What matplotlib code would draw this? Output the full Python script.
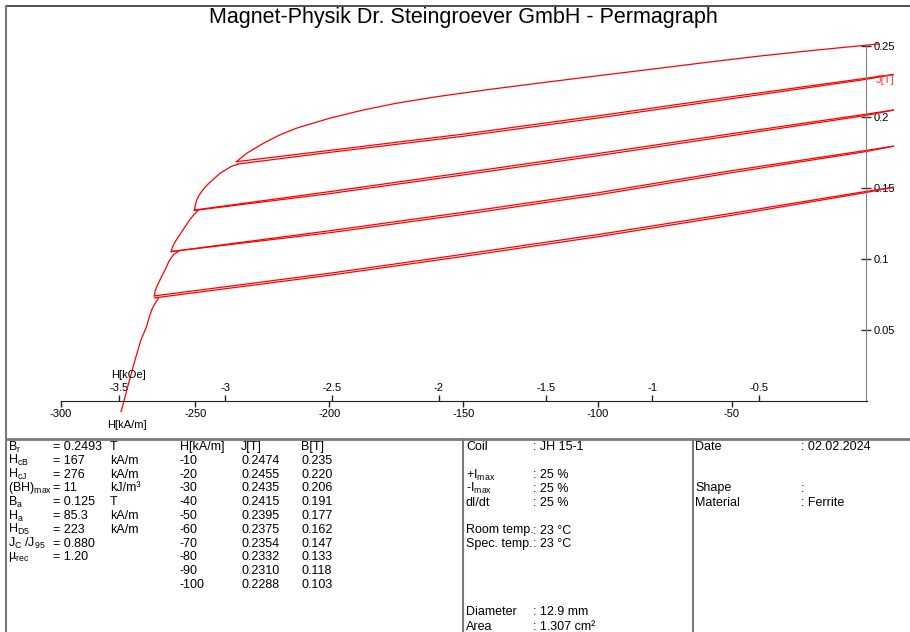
import matplotlib
matplotlib.use("Agg")
import matplotlib.pyplot as plt
from matplotlib.lines import Line2D

plt.rcParams['font.family'] = ['Liberation Sans', 'DejaVu Sans']
plt.rcParams['mathtext.fontset'] = 'custom'
plt.rcParams['mathtext.rm'] = 'Liberation Sans'
plt.rcParams['mathtext.it'] = 'Liberation Sans'
plt.rcParams['mathtext.bf'] = 'Liberation Sans:bold'
plt.rcParams['axes.unicode_minus'] = False

# demagnetisation curve J(H), H in kA/m, J in T
env_H = [5, 0, -20, -40, -60, -80, -100, -120, -140, -160, -175, -187.5,
         -200, -212, -218.5, -224.6, -230.8, -234.6]
env_J = [0.2511, 0.2502, 0.2465, 0.2425, 0.2380, 0.2333, 0.2287, 0.2240, 0.2192, 0.2140, 0.2094, 0.2046,
         0.1988, 0.1920, 0.1871, 0.1812, 0.1742, 0.1683]

# recoil loops (out to +10 kA/m and back)
rec1_H = [-234.6, -200, -150, -100, -50, 0, 10.1]
rec1_out = [0.1683, 0.1762, 0.1877, 0.2005, 0.2140, 0.2270, 0.2296]
rec1_back = [0.1665, 0.1748, 0.1862, 0.1990, 0.2126, 0.2262, 0.2296]

rec2_H = [-250.3, -200, -150, -100, -50, 0, 10.2]
rec2_out = [0.1343, 0.1472, 0.1605, 0.1740, 0.1880, 0.2017, 0.2046]
rec2_back = [0.1340, 0.1458, 0.1590, 0.1725, 0.1866, 0.2008, 0.2046]

rec3_H = [-258.9, -200, -150, -100, -50, 0, 10.2]
rec3_out = [0.1051, 0.1197, 0.1327, 0.1464, 0.1620, 0.1762, 0.1792]
rec3_back = [0.1051, 0.1183, 0.1312, 0.1449, 0.1606, 0.1754, 0.1792]

rec4_H = [-265.2, -200, -150, -100, -50, 0, 10.2]
rec4_out = [0.0739, 0.0898, 0.1032, 0.1170, 0.1320, 0.1474, 0.1503]
rec4_back = [0.0725, 0.0884, 0.1017, 0.1155, 0.1306, 0.1466, 0.1503]

# steep parts between the recoil points
desc1_H = [-234.0, -236.5, -240.9, -243.4, -245.4, -247.1, -248.6, -249.6, -250.3]
desc1_J = [0.1665, 0.1650, 0.1599, 0.1556, 0.1522, 0.1486, 0.1446, 0.1404, 0.1343]
desc2_H = [-248.9, -250.6, -252.0, -254.5, -257.0, -258.0, -258.6, -258.9]
desc2_J = [0.1340, 0.1307, 0.1275, 0.1204, 0.1134, 0.1100, 0.1075, 0.1051]
desc3_H = [-256.3, -258.0, -259.7, -261.2, -263.1, -264.2, -264.9, -265.2]
desc3_J = [0.1051, 0.1030, 0.0985, 0.0923, 0.0852, 0.0808, 0.0775, 0.0739]
tail_H = [-263.7, -265.0, -266.2, -267.2, -268.1, -270.2, -272.4, -275.0, -277.6]
tail_J = [0.0723, 0.0685, 0.0641, 0.0585, 0.0523, 0.0430, 0.0289, 0.0110, -0.0075]

h_ticks = [-300, -250, -200, -150, -100, -50]
koe_ticks = [-3.5, -3, -2.5, -2, -1.5, -1, -0.5]
j_ticks = [0.05, 0.1, 0.15, 0.2, 0.25]
j_labels = ['0.05', '0.1', '0.15', '0.2', '0.25']

results = [
    ('B$_\\mathrm{r}$', '= 0.2493', 'T'),
    ('H$_\\mathrm{cB}$', '= 167', 'kA/m'),
    ('H$_\\mathrm{cJ}$', '= 276', 'kA/m'),
    ('(BH)$_\\mathrm{max}$', '= 11', 'kJ/m³'),
    ('B$_\\mathrm{a}$', '= 0.125', 'T'),
    ('H$_\\mathrm{a}$', '= 85.3', 'kA/m'),
    ('H$_\\mathrm{D5}$', '= 223', 'kA/m'),
    ('J$_\\mathrm{C}$ /J$_\\mathrm{95}$', '= 0.880', ''),
    ('µ$_\\mathrm{rec}$', '= 1.20', ''),
]
tab_H = ['-10', '-20', '-30', '-40', '-50', '-60', '-70', '-80', '-90', '-100']
tab_J = ['0.2474', '0.2455', '0.2435', '0.2415', '0.2395', '0.2375', '0.2354', '0.2332', '0.2310', '0.2288']
tab_B = ['0.235', '0.220', '0.206', '0.191', '0.177', '0.162', '0.147', '0.133', '0.118', '0.103']

W, Hpx = 910, 632
fig = plt.figure(figsize=(9.1, 6.32), dpi=100)
ax = fig.add_axes([0, 0, 1, 1])
ax.set_xlim(-322.73, 16.40)
ax.set_ylim(-0.16245, 0.28200)

red = '#ff0000'
lw = 0.9
ax.plot(env_H, env_J, color=red, lw=lw)
for hh, jo, jb in [(rec1_H, rec1_out, rec1_back), (rec2_H, rec2_out, rec2_back),
                   (rec3_H, rec3_out, rec3_back), (rec4_H, rec4_out, rec4_back)]:
    ax.plot(hh, jo, color=red, lw=lw)
    ax.plot(hh, jb, color=red, lw=lw)
for hh, jj in [(desc1_H, desc1_J), (desc2_H, desc2_J), (desc3_H, desc3_J), (tail_H, tail_J)]:
    ax.plot(hh, jj, color=red, lw=lw)

# axes through the origin
ax.spines['top'].set_visible(False)
ax.spines['left'].set_visible(False)
ax.spines['bottom'].set_position(('data', 0))
ax.spines['bottom'].set_bounds(-300, 0.5)
ax.spines['bottom'].set_color('#202020')
ax.spines['right'].set_position(('data', 0))
ax.spines['right'].set_bounds(0, 0.25)
ax.spines['right'].set_color('#808080')

ax.xaxis.set_ticks_position('bottom')
ax.set_xticks(h_ticks)
ax.set_xticklabels([str(t) for t in h_ticks])
ax.tick_params(axis='x', direction='out', length=4, width=1, color='#202020', labelsize=8, pad=1.5)

ax.yaxis.set_ticks_position('right')
ax.set_yticks(j_ticks)
ax.set_yticklabels(j_labels)
ax.tick_params(axis='y', direction='inout', length=7, width=1, color='#303030', labelsize=8, pad=2)

sec = ax.secondary_xaxis(0.16245 / 0.44445, functions=(lambda h: h / 79.5775, lambda k: k * 79.5775))
sec.set_alignment('top')
for s in sec.spines.values():
    s.set_visible(False)
sec.set_xticks(koe_ticks)
sec.set_xticklabels([str(t) for t in koe_ticks])
sec.tick_params(direction='out', length=4, width=1, color='#202020', labelsize=8, pad=1.5)

ax.text(-275, 0.0183, 'H[kOe]', ha='center', va='center', fontsize=8)
ax.text(-275.4, -0.0169, 'H[kA/m]', ha='center', va='center', fontsize=8)
ax.text(3.7, 0.2257, 'J[T]', ha='left', va='center', fontsize=8, color='#ff3030')


def px(x, y):
    return x / W, 1 - y / Hpx


def t(x, y, s, **kw):
    fig.text(*px(x, y), s, fontsize=9, ha='left', va='center', **kw)


fig.text(*px(463, 18), 'Magnet-Physik Dr. Steingroever GmbH - Permagraph',
         ha='center', va='center', fontsize=15.5)

# frame and table lines
grey = '#7a7a7a'
for xs, ys, c, w in [((6, 910), (6, 6), '#303030', 1.2),
                     ((6, 6), (6, 632), grey, 1.5),
                     ((6, 910), (438.5, 438.5), grey, 2),
                     ((463.5, 463.5), (438.5, 632), grey, 1.5),
                     ((692.5, 692.5), (438.5, 632), grey, 1.5)]:
    fig.add_artist(Line2D([xs[0] / W, xs[1] / W], [1 - ys[0] / Hpx, 1 - ys[1] / Hpx],
                          color=c, lw=w, transform=fig.transFigure))

row0, dy = 447, 13.8
for i, (name, val, unit) in enumerate(results):
    y = row0 + i * dy
    t(8, y, name)
    t(53, y, val)
    t(110, y, unit)
t(180, row0, 'H[kA/m]')
t(241, row0, 'J[T]')
t(301, row0, 'B[T]')
for i in range(len(tab_H)):
    y = row0 + (i + 1) * dy
    t(180, y, tab_H[i])
    t(241, y, tab_J[i])
    t(301, y, tab_B[i])

setup = [
    (447.5, 'Coil', ': JH 15-1'),
    (475, '+I$_\\mathrm{max}$', ': 25 %'),
    (488.5, '-I$_\\mathrm{max}$', ': 25 %'),
    (502.5, 'dI/dt', ': 25 %'),
    (530.5, 'Room temp.', ': 23 °C'),
    (544, 'Spec. temp.', ': 23 °C'),
    (612, 'Diameter', ': 12.9 mm'),
    (626.5, 'Area', ': 1.307 cm²'),
]
for y, k, v in setup:
    t(466, y, k)
    t(533, y, v)

sample = [(447.5, 'Date', ': 02.02.2024'), (488.5, 'Shape', ':'), (502.5, 'Material', ': Ferrite')]
for y, k, v in sample:
    t(695, y, k)
    t(801, y, v)

fig.savefig('out.png', dpi=100)
